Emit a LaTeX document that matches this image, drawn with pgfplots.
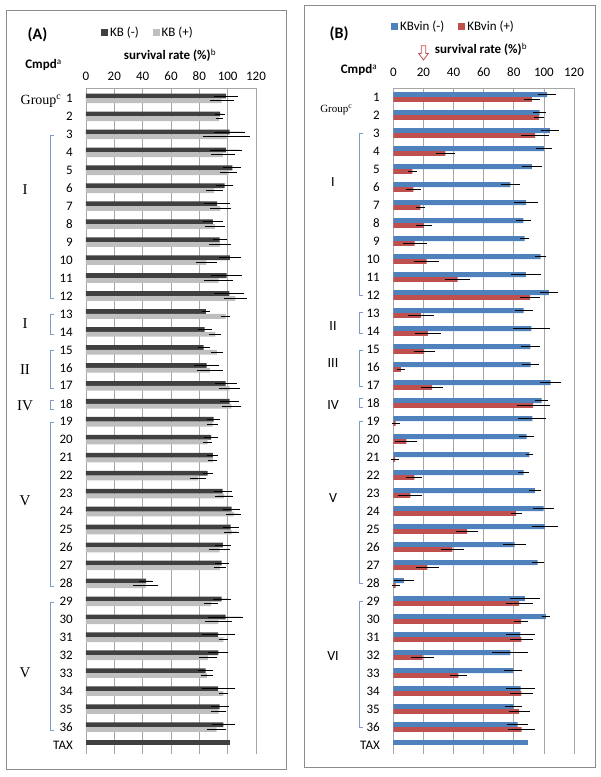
\documentclass[border=0pt]{standalone}
\usepackage{pgfplots}
\pgfplotsset{compat=1.18}
\usepackage{pgfplotstable}
\usepackage{fontspec}
\setmainfont{Carlito}
\newfontfamily\timesf{Liberation Serif}
\definecolor{kbdark}{HTML}{404040}
\definecolor{kblight}{HTML}{BFBFBF}
\definecolor{kbblue}{HTML}{4F81BD}
\definecolor{kbred}{HTML}{C0504D}
\definecolor{brk}{HTML}{7F9CC9}
\definecolor{gridc}{HTML}{A6A6A6}
\definecolor{framec}{HTML}{8C8C8C}
\tikzset{
  grpA/.style={font=\timesf\fontsize{15}{17}\selectfont},
  grpB/.style={font=\fontsize{14}{16}\selectfont},
  ylab/.style={font=\fontsize{13}{15}\selectfont, anchor=east, inner sep=0pt},
  brkline/.style={brk, line width=0.8pt},
}

\pgfplotstableread{
c d de l le
1 98.7 6.5 95.8 6.6
2 94.6 1.8 94.0 0.8
3 101.4 9.2 99.2 14.7
4 98.7 9.5 96.6 6.7
5 103.3 4.5 100.6 4.1
6 97.8 4.4 90.5 4.1
7 92.6 7.4 94.9 5.8
8 89.5 5.5 90.9 5.3
9 94.4 3.3 94.7 6.0
10 101.5 6.0 84.9 5.6
11 99.2 9.1 93.6 8.2
12 101.2 8.9 105.4 6.4
13 84.6 1.3 98.6 1.6
14 83.8 3.3 91.3 2.4
15 83.1 2.6 92.4 2.5
16 85.2 7.1 87.4 7.4
17 98.6 5.9 101.4 5.6
18 101.3 5.1 102.7 5.1
19 90.1 2.6 89.3 1.8
20 88.4 3.2 85.9 1.2
21 89.5 2.0 89.5 1.5
22 85.8 1.8 79.1 3.8
23 96.5 4.7 97.5 4.8
24 102.8 4.0 104.2 3.5
25 102.1 3.8 102.8 3.5
26 96.6 3.9 94.4 5.6
27 95.8 3.1 94.5 2.7
28 42.5 3.2 42.0 7.4
29 95.8 4.7 88.4 3.2
30 98.5 10.9 93.4 7.8
31 93.3 10.0 96.9 1.6
32 93.5 5.3 86.1 4.5
33 84.5 3.5 85.4 2.6
34 93.3 10.0 96.9 1.6
35 94.4 4.5 93.6 3.8
36 96.9 6.4 92.2 5.2
}\dataA

\pgfplotstableread{
c b be r re
1 102.1 4.6 92.1 3.5
2 97.1 2.5 96.9 1.7
3 104.0 4.4 94.1 7.7
4 100.1 3.5 34.6 4.8
5 92.0 5.0 12.6 1.5
6 77.8 4.8 13.3 3.3
7 88.2 6.3 18.0 1.4
8 86.3 3.3 20.3 3.7
9 87.2 1.3 14.2 6.2
10 97.9 2.1 22.1 6.9
11 88.1 8.4 42.7 6.4
12 103.3 4.1 90.8 5.1
13 86.6 4.2 18.3 6.8
14 91.7 10.4 22.9 7.0
15 91.1 4.8 20.5 5.4
16 91.2 3.8 5.0 1.2
17 104.4 5.4 25.7 5.8
18 98.5 2.7 92.9 9.2
19 92.3 7.5 1.5 1.0
20 88.6 3.4 8.6 5.8
21 90.4 0.8 1.2 1.0
22 86.5 2.0 14.0 3.7
23 94.0 2.5 11.3 6.4
24 99.8 5.1 81.6 1.9
25 100.7 7.1 49.0 5.6
26 80.5 5.9 39.2 6.0
27 95.9 2.2 22.7 6.1
28 7.0 5.2 1.5 1.0
29 87.4 8.4 83.6 7.2
30 101.3 1.0 84.9 3.0
31 84.4 8.0 85.0 6.0
32 77.7 10.2 19.4 6.1
33 79.7 4.4 43.2 4.0
34 84.5 8.1 85.1 6.1
35 79.9 4.2 83.5 5.3
36 82.5 5.4 85.2 7.1
}\dataB

\pgfplotsset{
  panel/.style={
    scale only axis,
    xbar,
    xmin=0, xmax=120,
    xtick={0,20,...,120},
    y dir=reverse,
    ytick=\empty,
    minor ytick={0.5,1.5,...,37.5},
    axis x line*=top, axis y line*=left,
    xmajorgrids,
    major grid style={gridc, line width=0.6pt},
    axis line style={gridc, line width=0.6pt},
    major x tick style={draw=none},
    minor y tick style={gridc, line width=0.6pt},
    tick align=outside,
    minor tick length=4.3pt,
    major tick length=0pt,
    /pgf/number format/assume math mode=true,
    xticklabel style={font=\fontsize{13}{15}\selectfont},
    clip=false,
    legend columns=2,
    legend style={draw=none, fill=none, font=\fontsize{13}{15}\selectfont, anchor=west,
      /tikz/every even column/.append style={column sep=12pt}},
    legend image code/.code={\fill[##1] (0pt,-3.5pt) rectangle (7pt,3.5pt);},
    eb/.style={error bars/.cd, x dir=both, x explicit,
      error bar style={black, line width=0.8pt},
      error mark options={black, line width=0.8pt, mark size=2.5pt}},
  }
}

\begin{document}
\begin{tikzpicture}
\useasboundingbox (0pt,0pt) rectangle (601pt,-777pt);
% frames
\draw[framec, line width=0.8pt] (6.7pt,-10pt) rectangle (286pt,-769pt);
\draw[framec, line width=0.8pt] (304pt,-5pt) rectangle (595pt,-767pt);

% ---------------- Panel A
\begin{axis}[panel, at={(86pt,-88pt)}, anchor=north west,
  width=170pt, height=666pt, ymin=0.42, ymax=37.5,
  xticklabel style={yshift=3.5pt},
  legend style={at={(0.07,1.084)}}]
\addplot[fill=kbdark, draw=none, bar width=4.8pt, bar shift=2.4pt, eb]
  table[x=d, y=c, x error=de] {\dataA};
\addlegendentry{KB (-)}
\addplot[fill=kblight, draw=none, bar width=4.8pt, bar shift=-2.4pt, eb]
  table[x=l, y=c, x error=le] {\dataA};
\addlegendentry{KB (+)}
\addplot[fill=kbdark, draw=none, bar width=4.8pt, bar shift=2.4pt, forget plot]
  coordinates {(101.6,37)};
% category labels
\foreach \i in {1,...,36} {
  \edef\temp{\noexpand\node[ylab] at ([xshift=-13pt]axis cs:0,\i) {\i};}
  \temp
}
\node[ylab] at ([xshift=-13pt]axis cs:0,37) {TAX};
% group brackets
\foreach \a/\b in {3.05/12.15, 13.05/14.15, 15.05/17.15, 17.8/18.3, 19.05/28.15, 29.05/36.2} {
  \edef\temp{\noexpand\draw[brkline] ([xshift=-32pt]axis cs:0,\a) -- ([xshift=-36pt]axis cs:0,\a)
     -- ([xshift=-36pt]axis cs:0,\b) -- ([xshift=-32pt]axis cs:0,\b);}
  \temp
}
\foreach \tt/\yy in {I/6.06, I/13.55, II/16.07, IV/18.08, V/23.4, V/33} {
  \edef\temp{\noexpand\node[grpA] at ([xshift=-61pt]axis cs:0,\yy) {\tt};}
  \temp
}
\node[font=\timesf\fontsize{14}{16}\selectfont] at ([xshift=-45pt]axis cs:0,1.15) {Group\textsuperscript{c}};
\end{axis}

% ---------------- Panel B
\begin{axis}[panel, at={(393.3pt,-88pt)}, anchor=north west,
  width=180.7pt, height=666pt, ymin=0.5, ymax=37.5,
  xticklabel style={yshift=7.5pt},
  legend style={at={(-0.03,1.092)}}]
\addplot[fill=kbblue, draw=none, bar width=4.8pt, bar shift=2.4pt, eb]
  table[x=b, y=c, x error=be] {\dataB};
\addlegendentry{KBvin (-)}
\addplot[fill=kbred, draw=none, bar width=4.8pt, bar shift=-2.4pt, eb]
  table[x=r, y=c, x error=re] {\dataB};
\addlegendentry{KBvin (+)}
\addplot[fill=kbblue, draw=none, bar width=4.8pt, bar shift=2.4pt, forget plot]
  coordinates {(89.2,37)};
\foreach \i in {1,...,36} {
  \edef\temp{\noexpand\node[ylab] at ([xshift=-13.3pt]axis cs:0,\i) {\i};}
  \temp
}
\node[ylab] at ([xshift=-13.3pt]axis cs:0,37) {TAX};
\foreach \a/\b in {3/12, 12.95/14.15, 15.05/17.05, 17.75/18.25, 19/28, 29/36} {
  \edef\temp{\noexpand\draw[brkline] ([xshift=-30.3pt]axis cs:0,\a) -- ([xshift=-34pt]axis cs:0,\a)
     -- ([xshift=-34pt]axis cs:0,\b) -- ([xshift=-30.3pt]axis cs:0,\b);}
  \temp
}
\foreach \tt/\yy in {I/5.74, II/13.7, III/15.8, IV/18.1, V/23.3, VI/32.05} {
  \edef\temp{\noexpand\node[grpB] at ([xshift=-60.3pt]axis cs:0,\yy) {\tt};}
  \temp
}
\node[font=\timesf\fontsize{11}{13}\selectfont] at ([xshift=-57pt]axis cs:0,1.7) {Group\textsuperscript{c}};
\end{axis}

% titles
\node[font=\bfseries\fontsize{16}{18}\selectfont] at (37.5pt,-34.5pt) {(A)};
\node[font=\bfseries\fontsize{16}{18}\selectfont] at (339pt,-34pt) {(B)};
\node[font=\bfseries\fontsize{13}{15}\selectfont] at (170pt,-55pt) {survival rate (\%)\textsuperscript{\mdseries b}};
\node[font=\bfseries\fontsize{13}{15}\selectfont] at (481pt,-49.5pt) {survival rate (\%)\textsuperscript{\mdseries b}};
\node[font=\bfseries\fontsize{13}{15}\selectfont] at (43.5pt,-65pt) {Cmpd\textsuperscript{\mdseries a}};
\node[font=\bfseries\fontsize{13}{15}\selectfont] at (359pt,-70pt) {Cmpd\textsuperscript{\mdseries a}};
% hollow arrow at 20 %
\draw[kbred, line width=0.8pt] (421.3pt,-45.7pt) -- (425.7pt,-45.7pt) -- (425.7pt,-53.5pt)
  -- (428.3pt,-53.5pt) -- (423.5pt,-60pt) -- (418.7pt,-53.5pt) -- (421.3pt,-53.5pt) -- cycle;
\end{tikzpicture}
\end{document}
